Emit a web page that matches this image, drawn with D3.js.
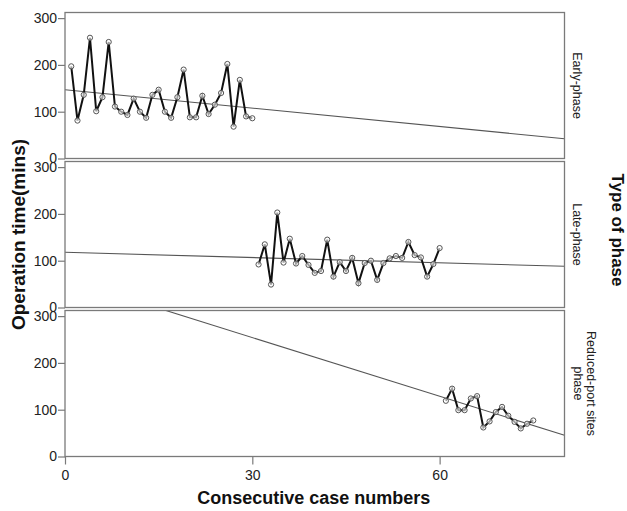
<!DOCTYPE html>
<html><head><meta charset="utf-8">
<script src="https://cdn.jsdelivr.net/npm/d3@7"></script>
<style>
body{margin:0;background:#fff;}
svg text{font-family:Arial,"Liberation Sans",sans-serif;}
</style></head>
<body><svg id="c" width="627" height="511"></svg>
<script>
// ---- data ----
const phases = ["Early-phase", "Late-phase", "Reduced-port sites phase"];
const phaseLabelLines = [["Early-phase"], ["Late-phase"], ["Reduced-port sites", "phase"]];
const earlyCases = d3.range(1, 31);
const earlyTimes = [197, 81, 136, 258, 101, 131, 249, 111, 100, 93, 128, 100, 87, 136, 147, 100, 87, 131, 190, 88, 88, 134, 95, 115, 140, 202, 68, 168, 90, 86];
const lateCases = d3.range(31, 61);
const lateTimes = [92, 135, 49, 203, 96, 147, 94, 110, 91, 74, 78, 145, 66, 97, 78, 106, 52, 95, 100, 59, 95, 105, 110, 106, 140, 112, 107, 66, 93, 127];
const reducedCases = d3.range(61, 76);
const reducedTimes = [119, 145, 99, 99, 124, 129, 62, 75, 95, 106, 87, 74, 60, 70, 77];
// fitted lines (intercept, slope)
const fitIntercepts = [147, 118, 379.6];
const fitSlopes = [-1.31, -0.375, -4.18];
const xTicks = [0, 30, 60];
const yTicks = [0, 100, 200, 300];
const seriesCases = [earlyCases, lateCases, reducedCases];
const seriesTimes = [earlyTimes, lateTimes, reducedTimes];

// ---- layout ----
const svg = d3.select("#c");
const left = 65, right = 564.5;
const panelTop = 12.5, panelH = 146, gap = 3;
const xMax = 80, yMax = 312;
const x = d3.scaleLinear().domain([0, xMax]).range([left, right]);
const frameColor = "#7a7a7a";
const textColor = "#222";

phases.forEach((p, i) => {
  const top = panelTop + i * (panelH + gap);
  const y = d3.scaleLinear().domain([0, yMax]).range([top + panelH, top]);
  const g = svg.append("g");
  const clipId = "clip" + i;
  svg.append("clipPath").attr("id", clipId).append("rect")
    .attr("x", left).attr("y", top).attr("width", right - left).attr("height", panelH);

  // y axis
  const ya = g.append("g").attr("transform", `translate(${left},0)`)
    .call(d3.axisLeft(y).tickValues(yTicks).tickSize(7).tickPadding(1).tickFormat(d3.format("d")));
  ya.select(".domain").remove();
  ya.selectAll("line").attr("stroke", frameColor).attr("stroke-width", 1.2);
  ya.selectAll("text").attr("font-size", 14).attr("fill", textColor);

  // fit line
  g.append("line").attr("clip-path", `url(#${clipId})`)
    .attr("x1", x(0)).attr("y1", y(fitIntercepts[i]))
    .attr("x2", x(xMax)).attr("y2", y(fitIntercepts[i] + fitSlopes[i] * xMax))
    .attr("stroke", "#555").attr("stroke-width", 1.1);

  // data line
  const pts = seriesCases[i].map((c, k) => [c, seriesTimes[i][k]]);
  g.append("path").datum(pts)
    .attr("d", d3.line().x(d => x(d[0])).y(d => y(d[1])))
    .attr("fill", "none").attr("stroke", "#111").attr("stroke-width", 2);
  g.selectAll("circle").data(pts).join("circle")
    .attr("cx", d => x(d[0])).attr("cy", d => y(d[1])).attr("r", 2.6)
    .attr("fill", "#fff").attr("fill-opacity", 0.6).attr("stroke", "#555").attr("stroke-width", 1);

  // frame
  g.append("rect").attr("x", left).attr("y", top).attr("width", right - left).attr("height", panelH)
    .attr("fill", "none").attr("stroke", frameColor).attr("stroke-width", 1.3);

  // strip label
  const lines = phaseLabelLines[i];
  const cy = top + panelH / 2;
  lines.forEach((t, j) => {
    const lx = lines.length === 1 ? 577 : 591 - j * 13;
    svg.append("text").attr("transform", `translate(${lx},${cy}) rotate(90)`)
      .attr("text-anchor", "middle").attr("dy", "0.35em")
      .attr("font-size", 12.5).attr("fill", textColor).text(t);
  });

  if (i === phases.length - 1) {
    const xa = svg.append("g").attr("transform", `translate(0,${top + panelH})`)
      .call(d3.axisBottom(x).tickValues(xTicks).tickSize(8).tickPadding(6).tickFormat(d3.format("d")));
    xa.select(".domain").remove();
    xa.selectAll("line").attr("stroke", frameColor).attr("stroke-width", 1.2);
    xa.selectAll("text").attr("font-size", 14).attr("fill", textColor);
  }
});

// titles
svg.append("text").attr("x", (left + right) / 2 - 1).attr("y", 504).attr("text-anchor", "middle")
  .attr("font-size", 18).attr("font-weight", "bold").attr("fill", "#111").text("Consecutive case numbers");
svg.append("text").attr("transform", `translate(25,${(panelTop + panelTop + 3 * panelH + 2 * gap) / 2}) rotate(-90)`)
  .attr("text-anchor", "middle").attr("font-size", 19).attr("font-weight", "bold").attr("fill", "#111")
  .text("Operation time(mins)");
svg.append("text").attr("transform", `translate(612,230) rotate(90)`)
  .attr("text-anchor", "middle").attr("font-size", 17).attr("font-weight", "bold").attr("fill", "#111")
  .text("Type of phase");
</script></body></html>
